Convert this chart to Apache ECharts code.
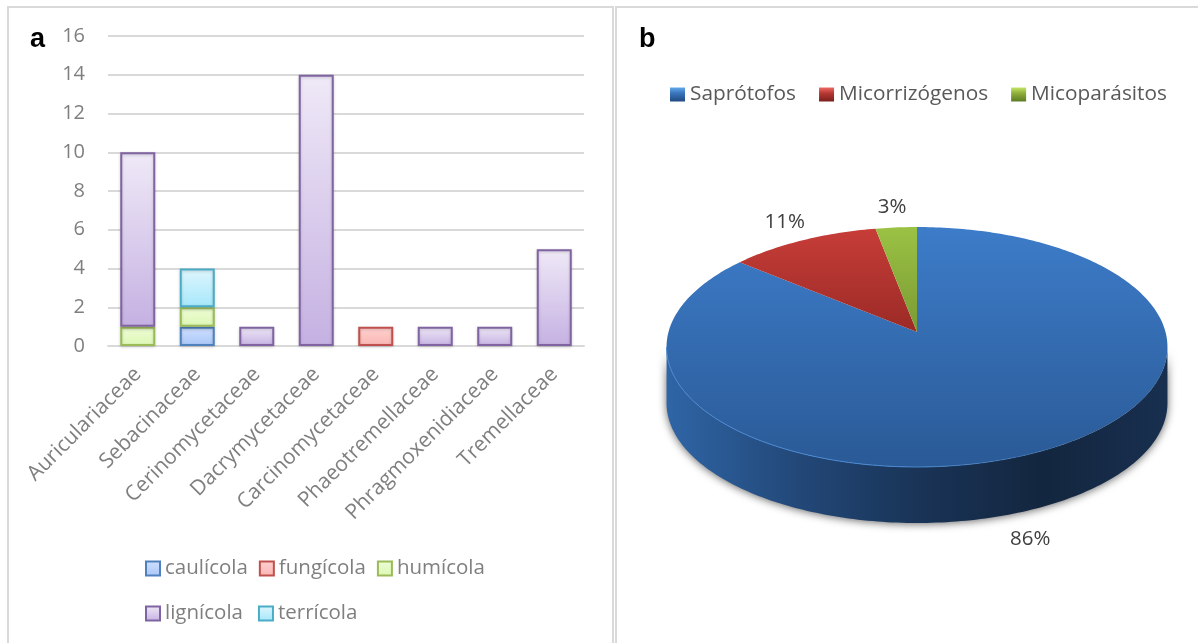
<!DOCTYPE html>
<html>
<head>
<meta charset="utf-8">
<style>html,body{margin:0;padding:0;background:#fff}#chart{width:1198px;height:643px}</style>
<script src="https://cdn.jsdelivr.net/npm/echarts@6/dist/echarts.min.js"></script>
</head>
<body>
<div id="chart"></div>
<script>
// Panel a: species counts per family, stacked by substrate
const families = ['Auriculariaceae','Sebacinaceae','Cerinomycetaceae','Dacrymycetaceae','Carcinomycetaceae','Phaeotremellaceae','Phragmoxenidiaceae','Tremellaceae'];
const caulicola = [0,1,0,0,0,0,0,0];
const fungicola = [0,0,0,0,1,0,0,0];
const humicola  = [1,1,0,0,0,0,0,0];
const lignicola = [9,0,1,14,0,1,1,5];
const terricola = [0,2,0,0,0,0,0,0];

// Panel b: share of each trophic group, percent
const trophicGroups = ['Saprótofos','Micorrizógenos','Micoparásitos'];
const trophicShares = [86,11,3];

const grad = (c0, c1) => new echarts.graphic.LinearGradient(0,0,0,1,[{offset:0,color:c0},{offset:1,color:c1}]);

const substrateStyles = [
  {name:'caulícola', data:caulicola, border:'#4f81bd', top:'#cfe0ff', bottom:'#a9c6f7'},
  {name:'fungícola', data:fungicola, border:'#c0504d', top:'#ffd2d0', bottom:'#f9b5b2'},
  {name:'humícola',  data:humicola,  border:'#9bbb59', top:'#eefdd6', bottom:'#dcf7b4'},
  {name:'lignícola', data:lignicola, border:'#8064a2', top:'#efe9f7', bottom:'#c5b1e2'},
  {name:'terrícola', data:terricola, border:'#4bacc6', top:'#dff6fd', bottom:'#a5e7fb'}
];

const barSeries = substrateStyles.map(s => ({
  name: s.name,
  type: 'bar',
  stack: 'species',
  barWidth: 35,
  xAxisIndex: 0,
  yAxisIndex: 0,
  // zero cells stay empty so no stray outline is drawn on the axis
  data: s.data.map(v => v === 0 ? null : v),
  itemStyle: {color: grad(s.top, s.bottom), borderColor: s.border, borderWidth: 2, shadowColor:'rgba(0,0,0,0.18)', shadowBlur:3, shadowOffsetY:1},
  emphasis: {disabled:true}
}));

// Perspective view of the tilted disc: angle is clockwise from twelve o'clock
const disc = {x:917, y:332, a:248.5, b:118.1, k:0.125, depth:56};
function project(deg){
  const t = deg*Math.PI/180, u = Math.sin(t), v = Math.cos(t), w = 1 + disc.k*v;
  return [disc.x + disc.a*u/w, disc.y - disc.b*v/w];
}
function arc(from, to, dy){
  const pts = [], n = Math.max(2, Math.ceil(Math.abs(to-from)));
  for(let i=0;i<=n;i++){
    const p = project(from + (to-from)*i/n);
    pts.push([p[0], p[1] + (dy||0)]);
  }
  return pts;
}
const sliceFills = [
  grad('#3d7cc9','#2a5a96'),
  grad('#c73d38','#9b2a26'),
  grad('#9bc244','#7a9a33')
];
const bevel = (c0, c1, c2) => new echarts.graphic.LinearGradient(0,0,0,1,[
  {offset:0,color:c0},{offset:0.4,color:c1},{offset:1,color:c2}
]);
const legendFills = [
  bevel('#63a8ec','#3a76bd','#1f4a80'),
  bevel('#ee6a63','#b83833','#7a1f1c'),
  bevel('#c4e566','#8fb03a','#5d7a24')
];
const labelNudges = [[-6,31],[-18,-18],[-4,-20]];
const wallFill = new echarts.graphic.LinearGradient(0,0,1,0,[
  {offset:0,color:'#2f65a6'},{offset:0.25,color:'#23497a'},
  {offset:0.5,color:'#193457'},{offset:0.75,color:'#13263f'},{offset:1,color:'#182f4f'}
]);
const rimStroke = new echarts.graphic.LinearGradient(0,0,1,0,[
  {offset:0,color:'#4a88d3'},{offset:0.5,color:'#4a88d3'},{offset:0.85,color:'rgba(74,136,211,0)'},{offset:1,color:'rgba(74,136,211,0)'}
]);
const total = trophicShares.reduce((s,v)=>s+v,0);

function sliceSeries(i){
  return {
    name: trophicGroups[i],
    type: 'custom',
    coordinateSystem: 'none',
    z: 3,
    silent: true,
    data: [[trophicShares[i]]],
    itemStyle: {color: legendFills[i]},
    renderItem: function(params, api){
      const value = api.value(0);
      const before = trophicShares.slice(0,i).reduce((s,v)=>s+v,0);
      const start = before/total*360, end = (before+value)/total*360, mid = (start+end)/2;
      const children = [];
      const spansNearEdge = start < 97 && end > 263;
      const edge = Math.acos(-disc.k)*180/Math.PI;
      if(spansNearEdge){
        // side wall belongs to the slice that spans the near edge
        const front = arc(edge, 360-edge, 0);
        const lower = arc(360-edge, edge, disc.depth);
        children.push({type:'polygon', shape:{points:front.concat(lower)},
          style:{fill:wallFill, shadowColor:'rgba(0,0,0,0.6)', shadowBlur:8, shadowOffsetY:1}});
      }
      children.push({type:'polygon',
        shape:{points:[[disc.x,disc.y]].concat(arc(start,end))},
        style:{fill:sliceFills[i]}});
      if(spansNearEdge){
        children.push({type:'polyline', shape:{points:arc(360-edge,edge)},
          style:{fill:null, stroke:rimStroke, lineWidth:1}});
      }
      const rim = project(mid), n = labelNudges[i];
      const onWall = mid > 97 && mid < 263;
      children.push({type:'text', z2:10, style:{
        x: rim[0]+n[0], y: rim[1]+n[1]+(onWall?disc.depth:0),
        text: value+'%', fill:'#404040',
        font:'20.5px "Open Sans"', align:'center', verticalAlign:'middle'}});
      return {type:'group', children};
    }
  };
}

const substrateLegend = (names, top, gap) => ({
  data: names.map(n => {
    const s = substrateStyles.find(o => o.name === n);
    return {name:n, itemStyle:{color:grad(s.top,s.bottom), borderColor:s.border, borderWidth:2}};
  }),
  left: 145, top, itemWidth: 14, itemHeight: 14, itemGap: gap, padding: 0,
  icon: 'rect', selectedMode: false,
  textStyle: {color:'#7f7f7f', fontSize:20.5, fontFamily:'"Open Sans"'}
});

const option = {
  animation: false,
  backgroundColor: '#fff',
  textStyle: {fontFamily:'"Open Sans"'},
  grid: {left:108, top:36, width:476, height:310},
  xAxis: {
    type:'category', data:families,
    axisTick:{show:false},
    axisLine:{lineStyle:{color:'#d9d9d9',width:2}},
    axisLabel:{rotate:45, color:'#7f7f7f', fontSize:21, margin:25, interval:0}
  },
  yAxis: {
    type:'value', min:0, max:16, interval:2,
    axisLine:{show:false}, axisTick:{show:false},
    splitLine:{lineStyle:{color:'#d9d9d9',width:2}},
    axisLabel:{color:'#7f7f7f', fontSize:20, margin:23}
  },
  legend: [
    substrateLegend(['caulícola','fungícola','humícola'], 558, 11),
    substrateLegend(['lignícola','terrícola'], 603, 15),
    {
      data: trophicGroups.map((n,i)=>({name:n, itemStyle:{color:legendFills[i]}})),
      left: 670, top: 84, itemWidth: 15, itemHeight: 14, itemGap: 23, padding: 0,
      icon:'rect', selectedMode:false,
      textStyle:{color:'#595959', fontSize:20.8, fontFamily:'"Open Sans"'}
    }
  ],
  graphic: [
    {type:'polyline', silent:true, shape:{points:[[8,643],[8,7],[613,7],[613,643]]}, style:{fill:null, stroke:'#d9d9d9', lineWidth:2}},
    {type:'polyline', silent:true, shape:{points:[[616,643],[616,7],[1198,7]]}, style:{fill:null, stroke:'#d9d9d9', lineWidth:2}},
    {type:'text', left:30, top:26, style:{text:'a', fill:'#000', font:'bold 27px "Liberation Sans"'}},
    {type:'text', left:639, top:26, style:{text:'b', fill:'#000', font:'bold 27px "Liberation Sans"'}}
  ],
  series: barSeries.concat(trophicGroups.map((_,i)=>sliceSeries(i)))
};

echarts.init(document.getElementById('chart'), null, {renderer:'canvas'}).setOption(option);
</script>
</body>
</html>
